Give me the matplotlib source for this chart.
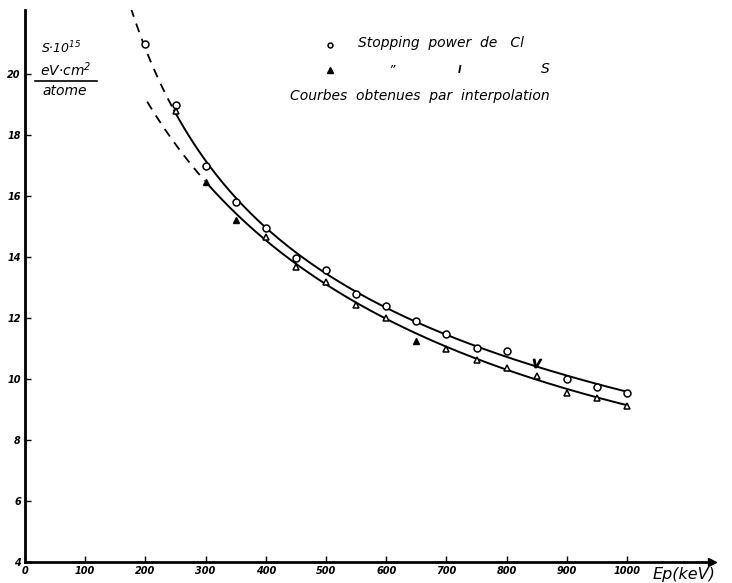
import numpy as np
import matplotlib
matplotlib.use('Agg')
from matplotlib import pyplot as plt
from matplotlib.lines import Line2D

# measured points, stopping power of Cl (open circles)
cl_e = [200, 250, 300, 350, 400, 450, 500, 550, 600, 650, 700, 750, 800, 900, 950, 1000]
cl_s = [21.0, 19.0, 17.0, 15.8, 14.95, 13.97, 13.57, 12.79, 12.39, 11.9, 11.48, 11.02, 10.92, 10.0, 9.74, 9.54]
# odd "v" mark near 850 keV
v_e = [850]
v_s = [10.52]

# stopping power of S (triangles)
s_e = [250, 400, 450, 500, 550, 600, 700, 750, 800, 850, 900, 950, 1000]
s_s = [18.8, 14.66, 13.67, 13.18, 12.43, 12.0, 11.0, 10.62, 10.36, 10.1, 9.54, 9.38, 9.11]
s_full_e = [300, 350, 650]
s_full_s = [16.45, 15.2, 11.25]

# interpolation curves
cl_curve_e = [176, 200, 250, 300, 350, 400, 450, 500, 550, 600, 650, 700, 750, 800, 850, 900, 950, 1000]
cl_curve_s = [22.0, 21.0, 18.9, 17.05, 15.85, 14.95, 14.1, 13.45, 12.85, 12.35, 11.9, 11.5, 11.1, 10.75, 10.45, 10.1, 9.8, 9.54]
s_curve_e = [203, 250, 300, 350, 400, 450, 500, 550, 600, 650, 700, 750, 800, 850, 900, 950, 1000]
s_curve_s = [19.05, 17.8, 16.45, 15.35, 14.6, 13.75, 13.1, 12.5, 12.0, 11.5, 11.05, 10.65, 10.3, 10.0, 9.7, 9.4, 9.11]

x_ticks = [0, 100, 200, 300, 400, 500, 600, 700, 800, 900, 1000]
y_ticks = [4, 6, 8, 10, 12, 14, 16, 18, 20]

plt.rcParams['font.family'] = ['DejaVu Sans']
plt.rcParams['font.style'] = 'italic'

fig = plt.figure(figsize=(7.32, 5.83), dpi=100)
ax = fig.add_axes([25/732, 21/583, 687/732, 552/583])
ax.set_xlim(0, 687/0.602)
ax.set_ylim(4, 4 + 552/30.5)

def smooth(xs, ys, split):
    # cubic fit in log space to get a smooth line through the read nodes
    lx = np.log(xs)
    c = np.polyfit(lx, ys, 3)
    xx = np.linspace(xs[0], xs[-1], 300)
    yy = np.polyval(c, np.log(xx))
    m = xx <= split
    return xx, yy, m

xx, yy, m = smooth(np.array(cl_curve_e), np.array(cl_curve_s), 245)
ax.plot(xx[m], yy[m], 'k--', lw=1.3, dashes=(5, 4))
ax.plot(xx[~m], yy[~m], 'k-', lw=1.4)
xx, yy, m = smooth(np.array(s_curve_e), np.array(s_curve_s), 300)
ax.plot(xx[m], yy[m], 'k--', lw=1.3, dashes=(5, 4))
ax.plot(xx[~m], yy[~m], 'k-', lw=1.4)

ax.plot(cl_e, cl_s, 'o', ms=5, mfc='white', mec='black', mew=1.1, ls='none')
ax.plot(v_e, v_s, marker='$v$', ms=6, color='black', ls='none')
ax.plot(s_e, s_s, '^', ms=5, mfc='white', mec='black', mew=1.1, ls='none')
ax.plot(s_full_e, s_full_s, '^', ms=5, color='black', ls='none')

for sp in ['top', 'right']:
    ax.spines[sp].set_visible(False)
ax.spines['left'].set_linewidth(2)
ax.spines['bottom'].set_linewidth(2)
ax.set_xticks(x_ticks)
ax.set_yticks(y_ticks)
ax.tick_params(direction='in', length=4, width=1, labelsize=7)
for t in ax.get_xticklabels() + ax.get_yticklabels():
    t.set_fontweight('bold')
    t.set_fontstyle('italic')
ax.tick_params(axis='y', pad=3)
ax.tick_params(axis='x', pad=3)
ax.plot([1.0], [0], marker='>', ms=6, color='black', transform=ax.transAxes, clip_on=False)

# axis titles
fig.text(653/732, 1 - 574/583, 'Ep(keV)', fontsize=11.5, style='italic', va='center')
fig.text(61/732, 1 - 48/583, r'S$\cdot$10$^{15}$', fontsize=9, style='italic', ha='center', va='center')
fig.text(66/732, 1 - 70/583, r'eV$\cdot$cm$^2$', fontsize=10, style='italic', ha='center', va='center')
fig.add_artist(Line2D([35/732, 97/732], [1 - 81/583, 1 - 81/583], color='black', lw=1.2))
fig.text(65/732, 1 - 91/583, 'atome', fontsize=10, style='italic', ha='center', va='center')

# legend block
fig.add_artist(Line2D([330/732], [1 - 45/583], marker='o', ms=3.5, mfc='white', mec='black', mew=1.1))
fig.text(358/732, 1 - 43/583, 'Stopping  power  de   Cl', fontsize=10, style='italic', va='center')
fig.add_artist(Line2D([330/732], [1 - 70/583], marker='^', ms=4, color='black'))
fig.text(392/732, 1 - 70/583, '\u201d', fontsize=9, ha='center', va='center')
fig.text(460/732, 1 - 70/583, 'I', fontsize=7, fontweight='bold', ha='center', va='center')
fig.text(545/732, 1 - 69/583, 'S', fontsize=10, style='italic', ha='center', va='center')
fig.text(290/732, 1 - 96/583, 'Courbes  obtenues  par  interpolation', fontsize=10, style='italic', va='center')

fig.savefig('out.png', dpi=100)
